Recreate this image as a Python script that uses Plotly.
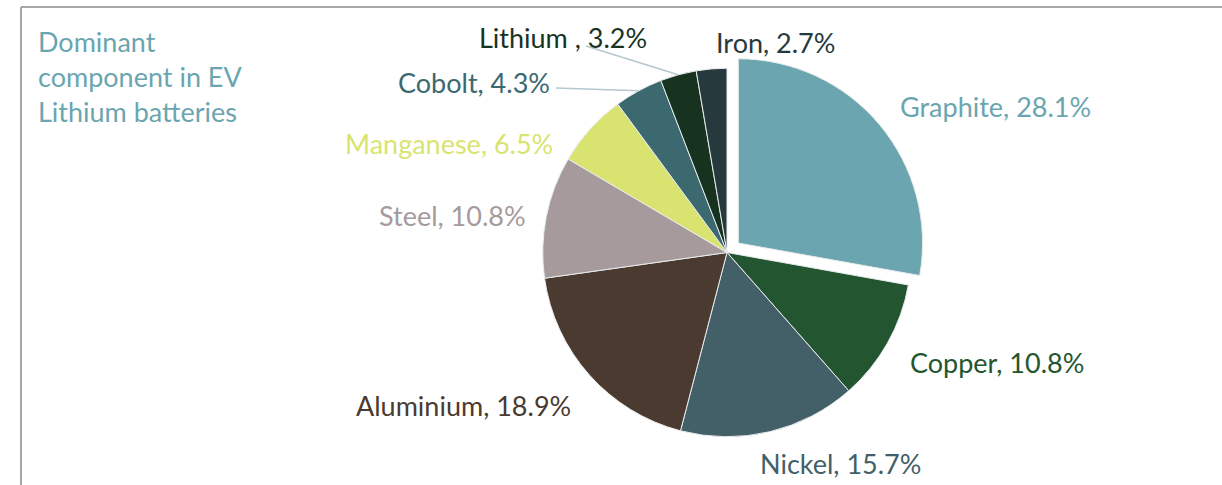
import math
import plotly.graph_objects as go

# 数据
materials = ['Graphite', 'Copper', 'Nickel', 'Aluminium', 'Steel',
             'Manganese', 'Cobolt', 'Lithium ', 'Iron']
shares = [28.1, 10.8, 15.7, 18.9, 10.8, 6.5, 4.3, 3.2, 2.7]
colors = ['#6aa5b0', '#235630', '#436068', '#4b3a30', '#a69a9c',
          '#d9e470', '#3c6870', '#17331f', '#263a3e']
pulls = [0.08, 0, 0, 0, 0, 0, 0, 0, 0]

# 标签位置（像素，锚点）
label_pos = [(898, 106, 'left'), (908, 362, 'left'), (758, 463, 'left'),
             (573, 405, 'right'), (528, 215, 'right'), (555, 143, 'right'),
             (552, 82, 'right'), (649, 38, 'right'), (714, 42, 'left')]
# 引线起点（像素），None 表示无引线
leader_from = [None, None, None, None, None, None, (556, 88), (586, 46), None]

W, H = 1222, 485
cx, cy, half = 727, 252.5, 199
radius = half / (1 + max(pulls))
FONT = 'Lato'

fig = go.Figure()
fig.add_trace(
    go.Pie(
        labels=materials,
        values=shares,
        sort=False,
        direction='clockwise',
        rotation=0,
        pull=pulls,
        marker=dict(colors=colors, line=dict(color='#e8ecec', width=1)),
        textinfo='none',
        automargin=False,
        showlegend=False,
        domain=dict(x=[(cx - half) / W, (cx + half) / W],
                    y=[(H - cy - half) / H, (H - cy + half) / H]),
    )
)

# 数据标签
total = sum(shares)
cum = 0
for name, val, col, (lx, ly, anc), src in zip(materials, shares, colors, label_pos, leader_from):
    mid = (cum + val / 2) / total * 2 * math.pi
    cum += val
    fig.add_annotation(
        text=f'{name}, {val:.1f}%',
        xref='paper', yref='paper', x=lx / W, y=1 - ly / H,
        xanchor=anc, yanchor='middle', showarrow=False,
        font=dict(size=27, color=col, family=FONT),
    )
    if src is not None:
        ex = cx + radius * math.sin(mid)
        ey = cy - radius * math.cos(mid)
        fig.add_shape(type='line', xref='paper', yref='paper',
                      x0=src[0] / W, y0=1 - src[1] / H, x1=ex / W, y1=1 - ey / H,
                      line=dict(color='#b4c8cd', width=1.5))

# 标题（左上角）
fig.add_annotation(
    text='Dominant<br>component in EV<br>Lithium batteries',
    xref='paper', yref='paper', x=36 / W, y=1 - 23 / H,
    xanchor='left', yanchor='top', align='left', showarrow=False,
    font=dict(size=27, color='#6aa5b0', family=FONT),
)

# 边框
fig.add_shape(type='line', xref='paper', yref='paper',
              x0=21 / W, x1=21 / W, y0=0, y1=1 - 7 / H,
              line=dict(color='#a6a6a6', width=2))
fig.add_shape(type='line', xref='paper', yref='paper',
              x0=21 / W, x1=1, y0=1 - 7 / H, y1=1 - 7 / H,
              line=dict(color='#a6a6a6', width=2))

fig.update_layout(
    width=W, height=H,
    margin=dict(l=0, r=0, t=0, b=0, autoexpand=False),
    paper_bgcolor='white',
    plot_bgcolor='white',
)

fig.write_html('out.html', config={'displayModeBar': False})

# 去掉页面默认边距
with open('out.html', encoding='utf-8') as f:
    page = f.read()
page = page.replace('<head>', '<head><style>html,body{margin:0;padding:0;overflow:hidden}</style>', 1)
with open('out.html', 'w', encoding='utf-8') as f:
    f.write(page)
